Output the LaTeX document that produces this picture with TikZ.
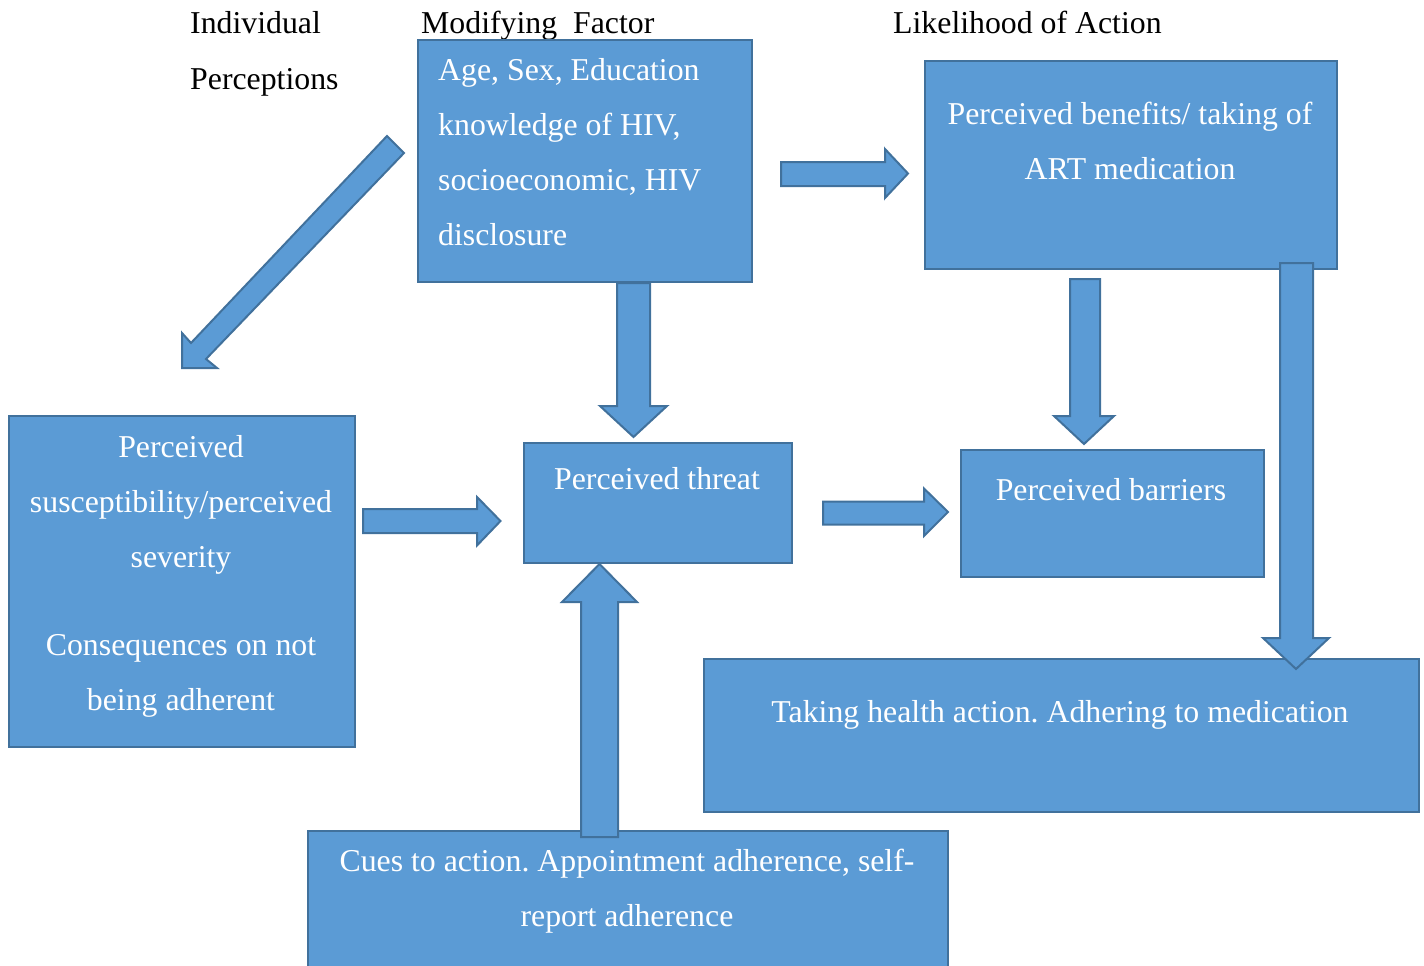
\documentclass[tikz,border=0pt]{standalone}
\usepackage{fontspec}
\setmainfont{Liberation Serif}
\definecolor{boxfill}{HTML}{5B9BD5}
\definecolor{boxline}{HTML}{41719C}
\begin{document}
\frenchspacing
\begin{tikzpicture}[x=1pt,y=-1pt,
  box/.style={draw=boxline,fill=boxfill,line width=2pt,inner sep=0pt,anchor=north west},
  blockarrow/.style={draw=boxline,fill=boxfill,line width=2pt,line join=miter},
  txt/.style={text=white,inner sep=0pt,font=\fontsize{31.8pt}{55pt}\selectfont\frenchspacing},
  lbl/.style={text=black,inner sep=0pt,font=\fontsize{31.8pt}{55pt}\selectfont,anchor=base west}]
\useasboundingbox (0,0) rectangle (1424,966);
\clip (0,0) rectangle (1424,966);

% header labels
\node[lbl] (indiv) at (190,34) {Individual};
\node[lbl] (percs) at (190,89) {Perceptions};
\node[lbl] (modf) at (421,34) {Modifying\ \ Factor};
\node[lbl] (likeli) at (893,34) {Likelihood of Action};

% boxes
\node[box,minimum width=334pt,minimum height=242pt] (mod) at (417,39) {};
\node[box,minimum width=412pt,minimum height=208pt] (ben) at (924,60) {};
\node[box,minimum width=346pt,minimum height=331pt] (sus) at (8,415) {};
\node[box,minimum width=268pt,minimum height=120pt] (thr) at (523,442) {};
\node[box,minimum width=303pt,minimum height=127pt] (bar) at (960,449) {};
\node[box,minimum width=715pt,minimum height=153pt] (act) at (703,658) {};
\node[box,minimum width=640pt,minimum height=160pt] (cue) at (307,830) {};

% box texts
\node[txt,anchor=north west,align=left] (modT) at (438,56)
  {\rule{0pt}{24pt}Age, Sex, Education\\knowledge of HIV,\\socioeconomic, HIV\\disclosure};
\node[txt,anchor=north,align=center] (benT) at (1130,100.5)
  {\rule{0pt}{24pt}Perceived benefits/ taking of\\ART medication};
\node[txt,anchor=north,align=center] (susT) at (181,433)
  {\rule{0pt}{24pt}Perceived\\susceptibility/perceived\\severity\\[33pt]Consequences on not\\being adherent};
\node[txt,anchor=base] (thrT) at (657,489) {Perceived threat};
\node[txt,anchor=base] (barT) at (1111,500) {Perceived barriers};
\node[txt,anchor=base] (actT) at (1060,722) {Taking health action. Adhering to medication};
\node[txt,anchor=north,align=center] (cueT) at (627,847.5)
  {\rule{0pt}{24pt}Cues to action. Appointment adherence, self-\\report adherence};

% block arrows
% Modifying -> Individual perceptions (diagonal)
\draw[blockarrow] (387,136) -- (404,153) -- (206,359) -- (217,368) -- (182,368) -- (182,333) -- (191,343) -- cycle;
% Modifying -> benefits
\draw[blockarrow] (781,162) -- (885,162) -- (885,149) -- (908,173.5) -- (885,198) -- (885,186) -- (781,186) -- cycle;
% Modifying -> threat
\draw[blockarrow] (617,283) -- (650,283) -- (650,406) -- (667,406) -- (633.5,437) -- (600,406) -- (617,406) -- cycle;
% Susceptibility -> threat
\draw[blockarrow] (363,509) -- (477,509) -- (477,497) -- (500.5,521) -- (477,545.5) -- (477,533) -- (363,533) -- cycle;
% threat -> barriers
\draw[blockarrow] (823,501.5) -- (924,501.5) -- (924,488.5) -- (948,512) -- (924,536) -- (924,524.5) -- (823,524.5) -- cycle;
% benefits -> barriers
\draw[blockarrow] (1070,279) -- (1100,279) -- (1100,416) -- (1114,416) -- (1084,444) -- (1054,416) -- (1070,416) -- cycle;
% benefits -> action
\draw[blockarrow] (1280,263) -- (1313,263) -- (1313,638) -- (1329,638) -- (1296,669) -- (1263,638) -- (1280,638) -- cycle;
% cues -> threat
\draw[blockarrow] (581,837) -- (618,837) -- (618,602) -- (637,602) -- (599.5,564) -- (562,602) -- (581,602) -- cycle;
\end{tikzpicture}
\end{document}
